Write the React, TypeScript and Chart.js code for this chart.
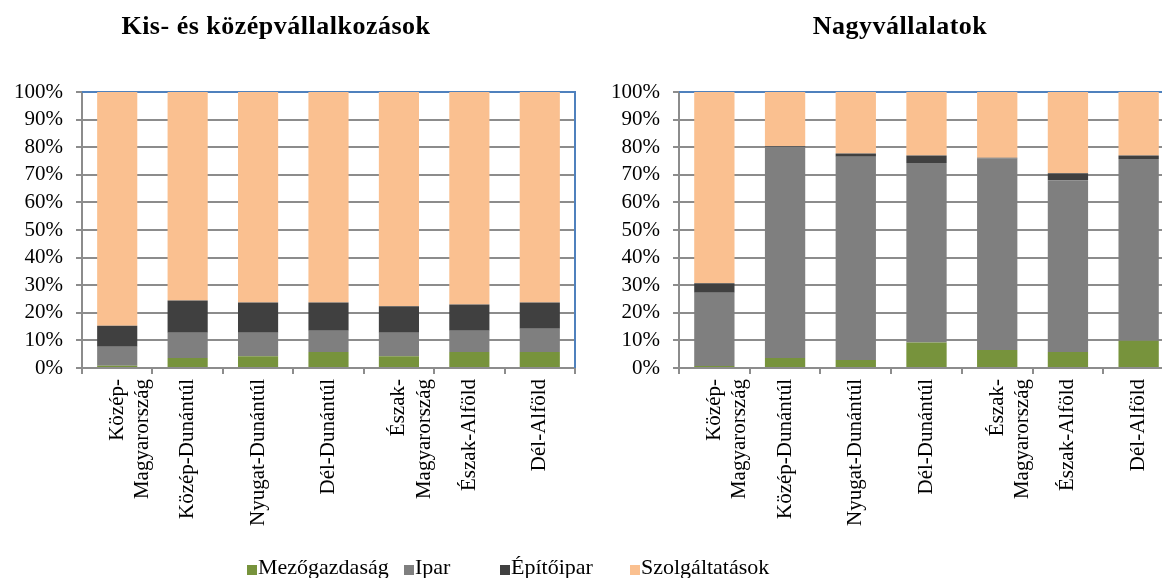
import React, { useEffect, useRef } from "react";
import { Chart, registerables } from "chart.js";

Chart.register(...registerables);

const categories: (string | string[])[] = [
  ["Közép-", "Magyarország"],
  "Közép-Dunántúl",
  "Nyugat-Dunántúl",
  "Dél-Dunántúl",
  ["Észak-", "Magyarország"],
  "Észak-Alföld",
  "Dél-Alföld",
];

const seriesNames = ["Mezőgazdaság", "Ipar", "Építőipar", "Szolgáltatások"];
const seriesColors = ["#77933c", "#7f7f7f", "#404040", "#fac090"];

// Kis- és középvállalkozások (%)
const smeMezogazdasag = [0.8, 3.6, 4.3, 5.8, 4.3, 5.8, 5.8];
const smeIpar = [6.9, 9.2, 8.5, 7.7, 8.5, 7.7, 8.4];
const smeEpitoipar = [7.6, 11.7, 10.9, 10.2, 9.6, 9.5, 9.5];
const smeSzolgaltatas = [84.7, 75.5, 76.3, 76.3, 77.6, 77.0, 76.3];

// Nagyvállalatok (%)
const bigMezogazdasag = [0.7, 3.6, 2.9, 9.2, 6.5, 5.8, 9.9];
const bigIpar = [26.6, 76.6, 73.6, 65.1, 69.5, 62.2, 65.8];
const bigEpitoipar = [3.4, 0.2, 1.2, 2.7, 0.2, 2.6, 1.3];
const bigSzolgaltatas = [69.3, 19.6, 22.3, 23.0, 23.8, 29.4, 23.0];

const titleLeft = "Kis- és középvállalkozások";
const titleRight = "Nagyvállalatok";

const FONT = "'Liberation Serif', 'DejaVu Serif', serif";
const GRID = "#8c8c8c";

const blueBorder = {
  id: "blueBorder",
  beforeDatasetsDraw(chart: any) {
    const { ctx, chartArea } = chart;
    ctx.save();
    ctx.strokeStyle = "#4f81bd";
    ctx.lineWidth = 2;
    ctx.beginPath();
    ctx.moveTo(chartArea.left, chartArea.top);
    ctx.lineTo(chartArea.right, chartArea.top);
    ctx.lineTo(chartArea.right, chartArea.bottom);
    ctx.stroke();
    ctx.restore();
  },
};

function makeConfig(values: number[][], padRight: number): any {
  return {
    type: "bar",
    data: {
      labels: categories,
      datasets: values.map((v, i) => ({
        label: seriesNames[i],
        data: v,
        backgroundColor: seriesColors[i],
        borderWidth: 0,
        categoryPercentage: 1,
        barPercentage: 0.57,
      })),
    },
    options: {
      animation: false,
      responsive: false,
      maintainAspectRatio: false,
      layout: { padding: { left: 0, top: 92, right: padRight, bottom: 0 } },
      plugins: {
        legend: { display: false },
        tooltip: { enabled: false },
        title: { display: false },
      },
      scales: {
        x: {
          stacked: true,
          afterFit: (s: any) => {
            s.height = 210;
          },
          grid: {
            display: true,
            drawOnChartArea: false,
            drawTicks: true,
            tickLength: 6,
            color: GRID,
            lineWidth: 2,
            offset: true,
          },
          border: { display: true, color: GRID, width: 2 },
          ticks: {
            minRotation: 90,
            maxRotation: 90,
            autoSkip: false,
            padding: 5,
            color: "#000",
            font: { family: FONT, size: 21 },
          },
        },
        y: {
          stacked: true,
          min: 0,
          max: 100,
          afterFit: (s: any) => {
            s.width = 82;
          },
          grid: {
            color: GRID,
            lineWidth: 2,
            drawTicks: true,
            tickLength: 6,
          },
          border: { display: true, color: GRID, width: 2 },
          ticks: {
            stepSize: 10,
            autoSkip: false,
            padding: 13,
            color: "#000",
            font: { family: FONT, size: 21 },
            callback: (v: any) => v + "%",
          },
        },
      },
    },
    plugins: [blueBorder],
  };
}

function BarChart({ values, padRight }: { values: number[][]; padRight: number }) {
  const ref = useRef<HTMLCanvasElement | null>(null);
  useEffect(() => {
    if (!ref.current) return;
    const chart = new Chart(ref.current, makeConfig(values, padRight));
    return () => chart.destroy();
  }, []);
  return <canvas ref={ref} width={600} height={578} style={{ width: 600, height: 578, display: "block" }} />;
}

const legendX = [247, 404, 500, 630];

const titleStyle: React.CSSProperties = {
  position: "absolute",
  top: 12,
  width: 600,
  textAlign: "center",
  fontWeight: "bold",
  fontSize: 26,
  letterSpacing: "0.5px",
  lineHeight: "28px",
  color: "#000",
};

export default function App() {
  return (
    <div
      style={{
        position: "fixed",
        left: 0,
        top: 0,
        width: 1162,
        height: 578,
        overflow: "hidden",
        background: "#fff",
        fontFamily: FONT,
      }}
    >
      <div style={{ position: "absolute", left: 0, top: 0 }}>
        <BarChart values={[smeMezogazdasag, smeIpar, smeEpitoipar, smeSzolgaltatas]} padRight={25} />
      </div>
      <div style={{ position: "absolute", left: 597, top: 0 }}>
        <BarChart values={[bigMezogazdasag, bigIpar, bigEpitoipar, bigSzolgaltatas]} padRight={23} />
      </div>
      <div style={{ ...titleStyle, left: -24 }}>{titleLeft}</div>
      <div style={{ ...titleStyle, left: 600 }}>{titleRight}</div>
      {seriesNames.map((name, i) => (
        <div
          key={name}
          style={{ position: "absolute", left: legendX[i], top: 556, display: "flex", alignItems: "flex-start", whiteSpace: "nowrap" }}
        >
          <span style={{ display: "inline-block", width: 10, height: 10, background: seriesColors[i], marginTop: 9, marginRight: 1 }} />
          <span style={{ fontSize: 22, lineHeight: "22px", color: "#000" }}>{name}</span>
        </div>
      ))}
    </div>
  );
}
